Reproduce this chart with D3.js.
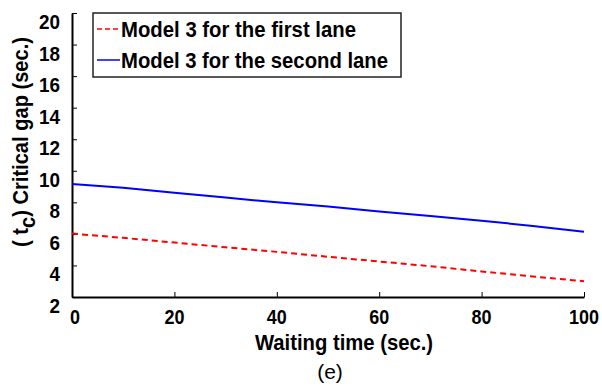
<!DOCTYPE html>
<html lang="en">
<head>
    <meta charset="UTF-8">
    <title>Critical gap vs waiting time</title>
    <script src="https://d3js.org/d3.v7.min.js"></script>
    <style>
        body {
            margin: 0;
            background: #fff;
        }
        svg text {
            font-family: "Liberation Sans Narrow", "Arial Narrow", "Liberation Sans", Arial, sans-serif;
        }
    </style>
</head>
<body>
    <div id="container"></div>
    <script>
        // data
        const waitTime = [0, 10, 20, 30, 40, 50, 60, 70, 80, 90, 100];
        const firstLane = [6.02, 5.75, 5.45, 5.15, 4.86, 4.55, 4.25, 3.95, 3.62, 3.3, 3.0];
        const secondLane = [9.16, 8.92, 8.6, 8.3, 8.0, 7.74, 7.42, 7.14, 6.84, 6.5, 6.13];
        const seriesNames = ['Model 3 for the first lane', 'Model 3 for the second lane'];
        const xTicks = [0, 20, 40, 60, 80, 100];
        const yTicks = [2, 4, 6, 8, 10, 12, 14, 16, 18, 20];

        const width = 602, height = 390;
        const svg = d3.select('#container').append('svg')
            .attr('width', width)
            .attr('height', height);

        const x = d3.scaleLinear().domain([0, 100]).range([72, 584]);
        const y = d3.scaleLinear().domain([2, 20]).range([297, 13]);

        // x axis (ticks point inward)
        const xAxis = svg.append('g')
            .attr('transform', 'translate(0,' + y(2) + ')')
            .call(d3.axisTop(x).tickValues(xTicks).tickSize(5).tickSizeOuter(0).tickFormat(''));
        xAxis.select('.domain').attr('stroke-width', 2);
        svg.selectAll('.xlab')
            .data(xTicks)
            .enter()
            .append('text')
            .attr('x', d => x(d) + (d === 0 ? 3 : 0))
            .attr('y', y(2) + 27)
            .attr('text-anchor', 'middle')
            .attr('font-size', 20)
            .attr('font-weight', 'bold')
            .attr('textLength', d => String(d).length * 10)
            .attr('lengthAdjust', 'spacingAndGlyphs')
            .text(d => d);

        // y axis
        const yAxis = svg.append('g')
            .attr('transform', 'translate(' + x(0) + ',0)')
            .call(d3.axisRight(y).tickValues(yTicks).tickSize(5).tickSizeOuter(0).tickFormat(''));
        yAxis.select('.domain').attr('stroke-width', 2);
        svg.selectAll('.ylab')
            .data(yTicks)
            .enter()
            .append('text')
            .attr('x', 60)
            .attr('y', d => y(d) + 16)
            .attr('text-anchor', 'end')
            .attr('font-size', 20)
            .attr('font-weight', 'bold')
            .attr('textLength', d => String(d).length * 10.5)
            .attr('lengthAdjust', 'spacingAndGlyphs')
            .text(d => d);

        // lines
        const line = d3.line()
            .x((d, i) => x(waitTime[i]))
            .y(d => y(d));

        svg.append('path')
            .datum(secondLane)
            .attr('d', line)
            .attr('fill', 'none')
            .attr('stroke', '#0000ff')
            .attr('stroke-width', 2);

        svg.append('path')
            .datum(firstLane)
            .attr('d', line)
            .attr('fill', 'none')
            .attr('stroke', '#ff0000')
            .attr('stroke-width', 2)
            .attr('stroke-dasharray', '6,4');

        // axis titles
        svg.append('text')
            .attr('x', 344)
            .attr('y', 350)
            .attr('text-anchor', 'middle')
            .attr('font-size', 22)
            .attr('font-weight', 'bold')
            .attr('textLength', 178)
            .attr('lengthAdjust', 'spacingAndGlyphs')
            .text('Waiting time (sec.)');

        svg.append('text')
            .attr('x', 330)
            .attr('y', 379)
            .attr('text-anchor', 'middle')
            .attr('font-size', 21)
            .text('(e)');

        const yTitle = svg.append('text')
            .attr('transform', 'translate(28,142) rotate(-90)')
            .attr('text-anchor', 'middle')
            .attr('font-size', 22)
            .attr('font-weight', 'bold')
            .attr('textLength', 210)
            .attr('lengthAdjust', 'spacingAndGlyphs');
        yTitle.append('tspan').text('( ');
        yTitle.append('tspan').text('t');
        yTitle.append('tspan').attr('dy', 7).text('c');
        yTitle.append('tspan').attr('dy', -7).text(') Critical gap (sec.)');

        // legend
        const legend = svg.append('g');
        legend.append('rect')
            .attr('x', 93)
            .attr('y', 13)
            .attr('width', 308)
            .attr('height', 64)
            .attr('fill', '#fff')
            .attr('stroke', '#222')
            .attr('stroke-width', 1.5);

        const legendColors = ['#ff0000', '#0000ff'];
        const legendDash = ['5,3', null];
        const legendWidths = [235, 267];
        seriesNames.forEach((name, i) => {
            const cy = 29 + i * 31;
            legend.append('line')
                .attr('x1', 97).attr('x2', 120)
                .attr('y1', cy).attr('y2', cy)
                .attr('stroke', legendColors[i])
                .attr('stroke-width', 1.5)
                .attr('stroke-dasharray', legendDash[i]);
            legend.append('text')
                .attr('x', 121)
                .attr('y', cy + 8)
                .attr('font-size', 22)
                .attr('font-weight', 'bold')
                .attr('textLength', legendWidths[i])
                .attr('lengthAdjust', 'spacingAndGlyphs')
                .text(name);
        });
    </script>
</body>
</html>
